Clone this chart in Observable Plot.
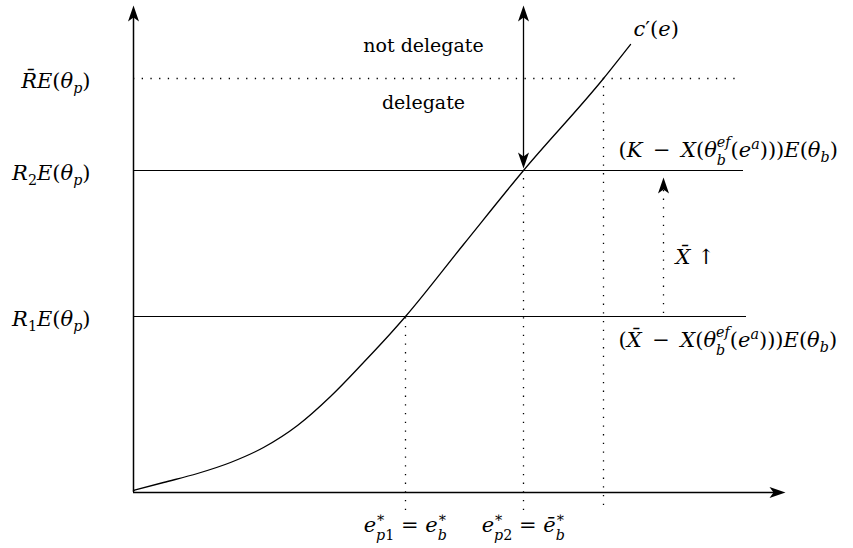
<!DOCTYPE html>
<html>
<head>
<meta charset="utf-8">
<script src="https://cdn.jsdelivr.net/npm/d3@7"></script>
<script src="https://cdn.jsdelivr.net/npm/@observablehq/plot@0.6"></script>
<style>
  html, body { margin: 0; padding: 0; background: #fff; }
  #chart svg { display: block; }
  #chart svg text, #chart svg tspan { font-family: "DejaVu Serif", "Liberation Serif", serif; }
</style>
</head>
<body>
<div id="chart"></div>
<script>
// Extent of the effort axis (e) and the marginal-cost axis, in diagram units
const eMax = 652;
const vMax = 487;

// Threshold levels R̄E(θp), R2E(θp), R1E(θp)
const levelLabels = ["R\u0304E(θ_p)", "R_2E(θ_p)", "R_1E(θ_p)"];
const levelValues = [414, 322, 176];
const levelEnds = [602, 610, 613];
const levelDotted = [true, false, false];

// Effort where c'(e) meets each threshold, and how far the guide drops below the axis
const crossE = [470, 390, 272];
const crossDrop = [-13, -18, -18];

// Marginal cost curve c'(e)
const curveE = [0, 30, 64, 97, 130, 164, 197, 230, 257, 272, 330, 390, 470, 497];
const curveC = [2, 10, 19, 30, 45, 67, 96, 130, 159, 176, 248, 322, 414, 448];

// Bound labels at the right end of R2 and R1
const boundLabels = ["(K\u2002−\u2002X(θ_b^{ef}(e^a)))E(θ_b)", "(X\u0304\u2002−\u2002X(θ_b^{ef}(e^a)))E(θ_b)"];
const boundY = [342, 152];

// Effort labels under the axis (for e*_p1 and e*_p2)
const effortLabels = ["e^{∗}_{p1} = e^{∗}_b", "e^{∗}_{p2} = ē^{∗}_b"];

// Region labels around R̄
const regionLabels = ["not delegate", "delegate"];
const regionY = [447, 390];

// Upward shift of the lower bound as X̄ rises
const shiftX = 530;
const shiftFrom = 179;
const shiftLabel = "X\u0304 ↑";

const levels = levelValues.map((v, i) => ({
  label: levelLabels[i], value: v, end: levelEnds[i], dotted: levelDotted[i]
}));
const crossings = crossE.map((e, i) => ({e, level: levelValues[i], drop: crossDrop[i]}));
const curve = curveE.map((e, i) => ({e, c: curveC[i]}));
const bounds = boundLabels.map((t, i) => ({t, y: boundY[i]}));
const efforts = effortLabels.map((t, i) => ({t, e: crossE[2 - i]}));
const regions = regionLabels.map((t, i) => ({t, y: regionY[i]}));

// Filled LaTeX-style arrow head, tip at the origin, pointing up
const stealth = {
  draw(ctx) {
    ctx.moveTo(0, 0);
    ctx.lineTo(5.5, 16);
    ctx.lineTo(0, 12);
    ctx.lineTo(-5.5, 16);
    ctx.closePath();
  }
};
const heads = [
  {x: 0, y: vMax, a: 0},
  {x: eMax, y: 0, a: 90},
  {x: crossE[1], y: vMax, a: 0},
  {x: crossE[1], y: levelValues[1] + 2, a: 180},
  {x: shiftX, y: levelValues[1] - 7, a: 0}
];

const dots = "1.3,7.4";
const serif = "DejaVu Serif";
const FM = 21;   // math labels
const FT = 19;   // plain text labels
const mathStyle = {fontFamily: serif, fontSize: FM, fill: "black"};
const textStyle = {fontFamily: serif, fontSize: FT, fill: "black"};

const chart = Plot.plot({
  width: 853,
  height: 548,
  margin: 0,
  x: {domain: [0, eMax], range: [133, 785], axis: null},
  y: {domain: [0, vMax], range: [492, 5], axis: null},
  marks: [
    // axes
    Plot.ruleX([0], {y1: 0, y2: vMax - 6, stroke: "black", strokeWidth: 1.5}),
    Plot.ruleY([0], {x1: 0, x2: eMax - 6, stroke: "black", strokeWidth: 1.5}),
    // threshold levels
    Plot.ruleY(levels.filter(d => d.dotted), {y: "value", x1: 0, x2: "end", stroke: "black", strokeWidth: 1.3, strokeDasharray: dots}),
    Plot.ruleY(levels.filter(d => !d.dotted), {y: "value", x1: 0, x2: "end", stroke: "black", strokeWidth: 1.2}),
    // guides from each crossing down past the axis
    Plot.ruleX(crossings, {x: "e", y1: "drop", y2: "level", stroke: "black", strokeWidth: 1.3, strokeDasharray: dots}),
    // delegate / not delegate divider
    Plot.ruleX([crossE[1]], {y1: levelValues[1] + 8, y2: vMax - 6, stroke: "black", strokeWidth: 1.3}),
    // X̄ shift arrow
    Plot.ruleX([shiftX], {y1: shiftFrom, y2: levelValues[1] - 20, stroke: "black", strokeWidth: 1.3, strokeDasharray: dots}),
    // c'(e)
    Plot.line(curve, {x: "e", y: "c", curve: "monotone-x", stroke: "black", strokeWidth: 1.3}),
    // arrow heads
    Plot.dot(heads, {x: "x", y: "y", rotate: "a", symbol: stealth, fill: "black", stroke: "none"}),
    // labels
    Plot.text(levels, {x: -43, y: "value", text: "label", textAnchor: "end", dy: 3, ...mathStyle}),
    Plot.text(regions, {x: 290, y: "y", text: "t", ...textStyle}),
    Plot.text(["c′(e)"], {x: 500, y: 463, text: d => d, textAnchor: "start", ...mathStyle}),
    Plot.text(bounds, {x: 485, y: "y", text: "t", textAnchor: "start", ...mathStyle}),
    Plot.text([shiftLabel], {x: 542, y: 235, text: d => d, textAnchor: "start", ...mathStyle}),
    Plot.text(efforts, {x: "e", y: -33, text: "t", ...mathStyle})
  ]
});
document.getElementById("chart").appendChild(chart);

// Typeset the math labels: italic letters, upright digits and symbols,
// raised/lowered scripts (stacked when a sub and a sup share a base).
const mathSet = new Set([...levelLabels, ...boundLabels, ...effortLabels, "c′(e)", shiftLabel]);
const SVGNS = "http://www.w3.org/2000/svg";

function parse(src) {
  const segs = [];
  let buf = "", i = 0;
  const flush = () => { if (buf) { segs.push({t: buf, k: "base"}); buf = ""; } };
  while (i < src.length) {
    const ch = src[i];
    if (ch === "_" || ch === "^") {
      flush();
      i++;
      let g;
      if (src[i] === "{") { const j = src.indexOf("}", i); g = src.slice(i + 1, j); i = j + 1; }
      else { g = src[i]; i++; }
      segs.push({t: g, k: ch === "_" ? "sub" : "sup"});
    } else { buf += ch; i++; }
  }
  flush();
  return segs;
}

function runs(s) {
  const out = [];
  const letter = c => /[A-Za-z\u0370-\u03FF\u0113\u0300-\u036F]/.test(c);
  for (const c of s) {
    const it = letter(c);
    if (out.length && (out[out.length - 1].it === it || /[\u0300-\u036F]/.test(c))) out[out.length - 1].s += c;
    else out.push({s: c, it});
  }
  return out;
}

function typeset(textEl, src) {
  const F = FM;
  const segs = parse(src);
  while (textEl.firstChild) textEl.removeChild(textEl.firstChild);
  let base = 0;       // current baseline offset
  let pendingDx = 0;
  for (let k = 0; k < segs.length; k++) {
    const seg = segs[k];
    const prev = segs[k - 1], next = segs[k + 1];
    const paired = seg.k !== "base" && ((next && next.k !== "base" && next.k !== seg.k) || (prev && prev.k !== "base" && prev.k !== seg.k));
    const size = seg.k === "base" ? F : F * 0.68;
    const target = seg.k === "base" ? 0 : seg.k === "sub" ? (paired ? 0.36 : 0.22) * F : (paired ? -0.47 : -0.4) * F;
    const spans = [];
    runs(seg.t).forEach((r, ri) => {
      const ts = document.createElementNS(SVGNS, "tspan");
      ts.textContent = r.s;
      ts.setAttribute("font-size", size);
      ts.setAttribute("font-style", r.it ? "italic" : "normal");
      if (ri === 0) {
        if (target !== base) ts.setAttribute("dy", target - base);
        if (pendingDx) ts.setAttribute("dx", pendingDx);
      }
      textEl.appendChild(ts);
      spans.push(ts);
    });
    base = target;
    pendingDx = 0;
    const w = spans.reduce((s, t) => s + t.getComputedTextLength(), 0);
    seg.w = w;
    if (paired && prev && prev.k !== "base" && prev.k !== seg.k && prev.stackStart) {
      // second script of a pair: it was started at the same x as the first
      if (prev.w > w) pendingDx = prev.w - w;
    } else if (paired) {
      seg.stackStart = true;
      pendingDx = -w;
    }
  }
}

chart.querySelectorAll("text").forEach(t => {
  const src = t.textContent;
  if (mathSet.has(src)) typeset(t, src);
});
</script>
</body>
</html>
